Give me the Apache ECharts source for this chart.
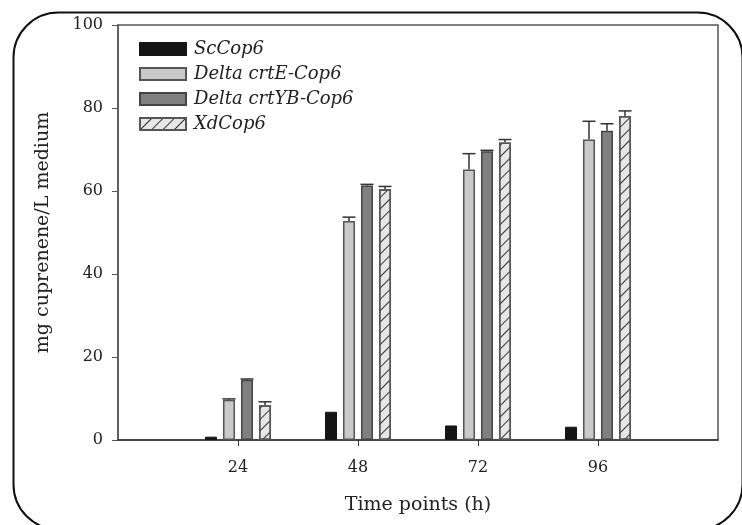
<!DOCTYPE html>
<html>
<head>
<meta charset="utf-8">
<script src="https://cdn.jsdelivr.net/npm/echarts@6/dist/echarts.min.js"></script>
<style>
  html, body { margin: 0; padding: 0; background: #fff; }
  #chart { width: 742px; height: 525px; }
</style>
</head>
<body>
<div id="chart"></div>
<script>
// categories (hours), first and last are empty slots so ticks sit at 24..96
var hours = ['0', '24', '48', '72', '96', '120'];
var timePoints = ['24', '48', '72', '96'];

var seriesNames = ['ScCop6', 'Delta crtE-Cop6', 'Delta crtYB-Cop6', 'XdCop6'];

var scCop6 = [0.8, 6.8, 3.5, 3.2];
var crtE = [9.7, 52.8, 65.2, 72.4];
var crtYB = [14.5, 61.3, 69.6, 74.5];
var xdCop6 = [8.4, 60.4, 71.7, 78.1];

var scCop6Err = [0, 0, 0, 0];
var crtEErr = [0.2, 0.9, 3.8, 4.4];
var crtYBErr = [0.2, 0.3, 0.2, 1.7];
var xdCop6Err = [0.8, 0.7, 0.7, 1.2];

var yTicks = [0, 20, 40, 60, 80, 100];

var font = 'DejaVu Serif';
var barW = 12;
var gapW = 6;

function barData(vals) {
  return timePoints.map(function (t, i) { return [t, vals[i]]; });
}

function errSeries(vals, errs, idx) {
  var offset = (idx - 1.5) * (barW + gapW);
  var data = [];
  timePoints.forEach(function (t, i) {
    if (errs[i] > 0) data.push([hours.indexOf(t), vals[i], vals[i] + errs[i]]);
  });
  return {
    type: 'custom',
    silent: true,
    z: 1,
    data: data,
    renderItem: function (params, api) {
      var base = api.coord([api.value(0), api.value(1)]);
      var top = api.coord([api.value(0), api.value(2)]);
      var x = base[0] + offset;
      var half = barW / 2 + 0.5;
      var st = { stroke: '#333', lineWidth: 1.5 };
      return {
        type: 'group',
        children: [
          { type: 'line', shape: { x1: x, y1: base[1], x2: x, y2: top[1] }, style: st },
          { type: 'line', shape: { x1: x - half, y1: top[1], x2: x + half, y2: top[1] }, style: st }
        ]
      };
    }
  };
}

var chart = echarts.init(document.getElementById('chart'));

chart.setOption({
  animation: false,
  backgroundColor: '#fff',
  graphic: [{
    type: 'rect',
    left: 11, top: 10,
    shape: { width: 729, height: 517, r: 45 },
    style: { fill: null, stroke: '#111', lineWidth: 2 },
    z: -1
  }],
  grid: {
    left: 118, top: 25, right: 24, bottom: 85,
    show: true, borderColor: '#555', borderWidth: 1.5
  },
  legend: {
    data: seriesNames,
    orient: 'vertical',
    left: 134, top: 35,
    itemWidth: 46, itemHeight: 12,
    itemGap: 7,
    icon: 'rect',
    textStyle: { fontFamily: font, fontStyle: 'italic', fontSize: 18, color: '#222', padding: [0, 0, 0, 3] }
  },
  xAxis: {
    type: 'category',
    data: hours,
    boundaryGap: false,
    name: 'Time points (h)',
    nameLocation: 'middle',
    nameGap: 56,
    nameTextStyle: { fontFamily: font, fontSize: 19, color: '#222' },
    axisLine: { lineStyle: { color: '#333', width: 1.5 } },
    axisTick: {
      length: 6,
      lineStyle: { color: '#333' },
      interval: function (i) { return i > 0 && i < hours.length - 1; }
    },
    axisLabel: {
      fontFamily: font, fontSize: 16, color: '#222', margin: 20,
      interval: function (i) { return i > 0 && i < hours.length - 1; }
    },
    splitLine: { show: false }
  },
  yAxis: {
    type: 'value',
    min: yTicks[0], max: yTicks[yTicks.length - 1], interval: 20,
    name: 'mg cuprenene/L medium',
    nameLocation: 'middle',
    nameGap: 65,
    nameTextStyle: { fontFamily: font, fontSize: 19, color: '#222' },
    axisLine: { show: true, lineStyle: { color: '#555', width: 1.5 } },
    axisTick: { show: true, length: 6, lineStyle: { color: '#555' } },
    axisLabel: { fontFamily: font, fontSize: 16, color: '#222', margin: 15 },
    splitLine: { show: false }
  },
  series: [
    {
      name: seriesNames[0], type: 'bar', data: barData(scCop6),
      barWidth: barW, barGap: '50%', z: 2,
      itemStyle: { color: '#151515', borderColor: '#151515', borderWidth: 1 }
    },
    {
      name: seriesNames[1], type: 'bar', data: barData(crtE),
      barWidth: barW, barGap: '50%', z: 2,
      itemStyle: { color: '#c9c9c9', borderColor: '#555', borderWidth: 1.5 }
    },
    {
      name: seriesNames[2], type: 'bar', data: barData(crtYB),
      barWidth: barW, barGap: '50%', z: 2,
      itemStyle: { color: '#808080', borderColor: '#444', borderWidth: 1.5 }
    },
    {
      name: seriesNames[3], type: 'bar', data: barData(xdCop6),
      barWidth: barW, barGap: '50%', z: 2,
      itemStyle: {
        color: '#e6e6e6', borderColor: '#555', borderWidth: 1.5,
        decal: {
          symbol: 'rect', symbolSize: 1,
          dashArrayX: [1, 0], dashArrayY: [1, 7],
          rotation: -Math.PI / 4,
          color: '#333'
        }
      }
    },
    errSeries(scCop6, scCop6Err, 0),
    errSeries(crtE, crtEErr, 1),
    errSeries(crtYB, crtYBErr, 2),
    errSeries(xdCop6, xdCop6Err, 3)
  ]
});
</script>
</body>
</html>
